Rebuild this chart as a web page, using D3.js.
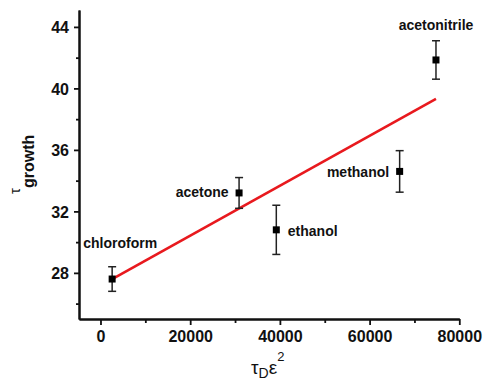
<!DOCTYPE html>
<html><head><meta charset="utf-8">
<script src="https://cdn.jsdelivr.net/npm/d3@7/dist/d3.min.js"></script>
<style>body{margin:0;background:#fff}svg{display:block}</style>
</head><body>
<script>
const solvents = ["chloroform","acetone","ethanol","methanol","acetonitrile"];
const tauDEps2 = [2600, 30900, 39200, 66700, 74800];
const tauGrowth = [27.6, 33.2, 30.8, 34.6, 41.85];
const errBar = [0.8, 1.0, 1.6, 1.35, 1.25];
const fitX = [2600, 74800];
const fitY = [27.6, 39.32];
const xTicks = [0, 20000, 40000, 60000, 80000];
const xMinor = [10000, 30000, 50000, 70000];
const yTicks = [28, 32, 36, 40, 44];
const yMinor = [26, 30, 34, 38, 42];

const W = 483, H = 383;
const svg = d3.select("body").append("svg").attr("width", W).attr("height", H);
const x = d3.scaleLinear().domain([-4790, 80000]).range([79, 459.3]);
const y = d3.scaleLinear().domain([25, 45.1]).range([319, 10]);

const font = "'Liberation Sans', Arial, sans-serif";

// axes
const xAxis = svg.append("g").attr("transform", `translate(0,${y(25)})`)
  .call(d3.axisBottom(x).tickValues(xTicks).tickSize(6).tickPadding(6).tickSizeOuter(0).tickFormat(d3.format("d")));
const xMin = svg.append("g").attr("transform", `translate(0,${y(25)})`)
  .call(d3.axisBottom(x).tickValues(xMinor).tickSize(4).tickSizeOuter(0).tickFormat(""));
const yAxis = svg.append("g").attr("transform", `translate(${x(-4790)},0)`)
  .call(d3.axisLeft(y).tickValues(yTicks).tickSize(5).tickPadding(5).tickSizeOuter(0));
const yMin = svg.append("g").attr("transform", `translate(${x(-4790)},0)`)
  .call(d3.axisLeft(y).tickValues(yMinor).tickSize(3).tickSizeOuter(0).tickFormat(""));
[xAxis, xMin, yAxis, yMin].forEach(g => {
  g.selectAll("path.domain").attr("stroke", "#111").attr("stroke-width", 2);
  g.selectAll(".tick line").attr("stroke", "#111").attr("stroke-width", 1.8);
  g.selectAll(".tick text").attr("fill", "#111").style("font-family", font)
    .style("font-size", "16px").style("font-weight", "bold");
});
yAxis.selectAll(".tick text").attr("dy", "0.36em");
xAxis.selectAll(".tick text").attr("dy", "0.71em");

// fit line
svg.append("line")
  .attr("x1", x(fitX[0])).attr("y1", y(fitY[0]))
  .attr("x2", x(fitX[1])).attr("y2", y(fitY[1]))
  .attr("stroke", "#e8191e").attr("stroke-width", 2.6);

// error bars
const pts = solvents.map((s, i) => ({s, xv: tauDEps2[i], yv: tauGrowth[i], e: errBar[i]}));
const eb = svg.append("g").attr("stroke", "#222").attr("stroke-width", 1.5);
pts.forEach(p => {
  const cx = x(p.xv);
  eb.append("line").attr("x1", cx).attr("x2", cx).attr("y1", y(p.yv - p.e)).attr("y2", y(p.yv + p.e));
  [p.yv - p.e, p.yv + p.e].forEach(v => eb.append("line").attr("x1", cx - 4).attr("x2", cx + 4).attr("y1", y(v)).attr("y2", y(v)));
});
svg.append("g").selectAll("rect").data(pts).join("rect")
  .attr("x", d => x(d.xv) - 3.5).attr("y", d => y(d.yv) - 3.5)
  .attr("width", 7).attr("height", 7).attr("fill", "#000");

// point labels
const labelStyle = {
  chloroform: {dx: 8, dy: -31, anchor: "middle"},
  acetone: {dx: -10.5, dy: 4.5, anchor: "end"},
  ethanol: {dx: 11.5, dy: 6, anchor: "start"},
  methanol: {dx: -10.5, dy: 6, anchor: "end"},
  acetonitrile: {dx: 0, dy: -30, anchor: "middle"}
};
svg.append("g").selectAll("text").data(pts).join("text")
  .attr("x", d => x(d.xv) + labelStyle[d.s].dx)
  .attr("y", d => y(d.yv) + labelStyle[d.s].dy)
  .attr("text-anchor", d => labelStyle[d.s].anchor)
  .style("font-family", font).style("font-size", "14px").style("font-weight", "bold")
  .attr("fill", "#111").text(d => d.s);

// axis titles
const xt = svg.append("text").attr("x", 251).attr("y", 374).attr("fill", "#111")
  .style("font-family", font);
xt.append("tspan").text("τ").style("font-size", "19px");
xt.append("tspan").text("D").style("font-size", "14px").attr("dy", 4);
xt.append("tspan").text("ε").style("font-size", "19px").attr("dy", -4);
xt.append("tspan").text("2").style("font-size", "13px").attr("dy", -13);

const yt = svg.append("text").attr("transform", "translate(20,194) rotate(-90)")
  .attr("fill", "#111").style("font-family", font);
yt.append("tspan").text("τ").style("font-size", "15px");
yt.append("tspan").text("growth").style("font-size", "16px").style("font-weight", "bold").attr("dy", 14).attr("dx", 0);
</script>
</body></html>
